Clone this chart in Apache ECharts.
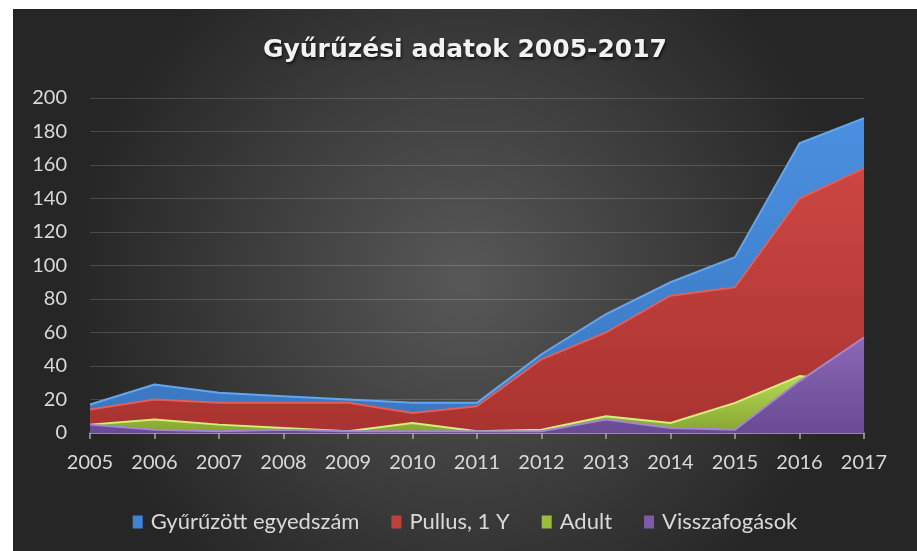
<!DOCTYPE html>
<html lang="hu">
<head>
    <meta charset="UTF-8">
    <title>Gyűrűzési adatok 2005-2017</title>
    <script src="https://cdn.jsdelivr.net/npm/echarts@6/dist/echarts.min.js"></script>
    <style>
        body { margin:0; background:#fff; }
        #main { position:absolute; left:13px; top:9px; width:904px; height:542px; }
    </style>
</head>
<body>
<div id="main"></div>

<script type="text/javascript">
    // adatok (leolvasva az ábráról)
    var evek = ['2005','2006','2007','2008','2009','2010','2011','2012','2013','2014','2015','2016','2017'];
    var gyuruzott = [17, 29, 24, 22, 20, 18, 18, 47, 71, 90, 105, 173, 188];
    var pullus = [14, 20, 18, 18, 18, 12, 16, 44, 60, 82, 87, 140, 158];
    var adult = [5, 8, 5, 3, 1, 6, 1, 2, 10, 6, 18, 34, 30];
    var visszafogas = [5, 2, 1, 2, 1, 1, 1, 1, 8, 3, 2, 31, 57];
    var yTicks = [0, 20, 40, 60, 80, 100, 120, 140, 160, 180, 200];

    var font = 'Lato';

    function grad(c1, c2) {
        return {
            type: 'linear', x: 0, y: 0, x2: 0, y2: 1,
            colorStops: [{offset: 0, color: c1}, {offset: 1, color: c2}]
        };
    }

    // minden sorozat külön rétegen, hogy a későbbi takarja a korábbit
    function area(name, data, z, solid, light, top, bottom) {
        return {
            name: name,
            type: 'line',
            z: z,
            data: data,
            symbol: 'none',
            itemStyle: {color: solid},
            lineStyle: {color: light, width: 2},
            areaStyle: {color: grad(top, bottom), opacity: 1}
        };
    }

    var myChart = echarts.init(document.getElementById('main'));
    myChart.setOption({
        animation: false,
        backgroundColor: {
            type: 'radial', x: 0.5, y: 0.5, r: 0.72,
            colorStops: [{offset: 0, color: '#585858'}, {offset: 1, color: '#262626'}]
        },
        title: {
            text: 'Gyűrűzési adatok 2005-2017',
            left: 'center',
            top: 24,
            textStyle: {
                color: '#f2f2f2',
                fontFamily: 'DejaVu Sans',
                fontWeight: 'bold',
                fontSize: 25,
                textShadowColor: 'rgba(0,0,0,0.7)',
                textShadowBlur: 3,
                textShadowOffsetX: 1,
                textShadowOffsetY: 2
            }
        },
        legend: {
            data: ['Gyűrűzött egyedszám', 'Pullus, 1 Y', 'Adult', 'Visszafogások'],
            left: 'center',
            top: 497,
            icon: 'rect',
            itemWidth: 10,
            itemHeight: 13,
            itemGap: 32,
            textStyle: {color: '#d9d9d9', fontFamily: font, fontSize: 22, padding: [0, 0, 0, 3]}
        },
        grid: {left: 77, right: 53, top: 89, bottom: 118},
        xAxis: {
            type: 'category',
            data: evek,
            boundaryGap: false,
            axisLine: {lineStyle: {color: '#a6a6a6', width: 1.5}},
            axisTick: {show: true, length: 6, lineStyle: {color: '#a6a6a6', width: 1.5}},
            axisLabel: {color: '#d9d9d9', fontFamily: font, fontSize: 20, margin: 20},
            splitLine: {show: false}
        },
        yAxis: {
            type: 'value',
            min: yTicks[0],
            max: yTicks[yTicks.length - 1],
            interval: yTicks[1] - yTicks[0],
            axisLine: {show: false},
            axisTick: {show: false},
            axisLabel: {color: '#d9d9d9', fontFamily: font, fontSize: 20, margin: 23},
            splitLine: {lineStyle: {color: 'rgba(255,255,255,0.16)', width: 1}}
        },
        series: [
            area('Gyűrűzött egyedszám', gyuruzott, 2, '#3f83d4', '#64a6ee', '#4a90e0', '#3a76c0'),
            area('Pullus, 1 Y', pullus, 3, '#c0403c', '#e45e58', '#cc4643', '#a93330'),
            area('Adult', adult, 4, '#9bbb3b', '#d2f07a', '#b6d955', '#86a530'),
            area('Visszafogások', visszafogas, 5, '#7e5aa8', '#a485d2', '#8a68b6', '#6a4a92')
        ]
    });
</script>
</body>
</html>
